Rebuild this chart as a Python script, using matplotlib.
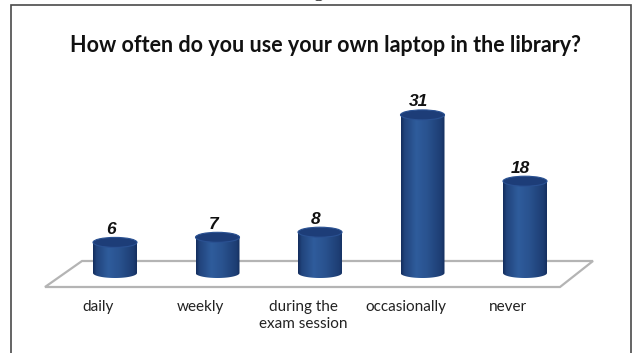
import numpy as np
import matplotlib
matplotlib.use("Agg")
import matplotlib.pyplot as plt
from matplotlib.patches import Ellipse, Polygon, Rectangle, PathPatch
from matplotlib.path import Path
import matplotlib.transforms as mtransforms

# ---- data ----
categories = ["daily", "weekly", "during the\nexam session", "occasionally", "never"]
values = [6, 7, 8, 31, 18]
title = "How often do you use your own laptop in the library?"

W, H = 633, 353
fig = plt.figure(figsize=(W / 100, H / 100), dpi=100)
fig.patch.set_facecolor("white")

def fx(px):
    return px / W

def fy(py):
    return 1 - py / H

# axes covering the figure; scale chosen so that bars sit on the floor
ax = fig.add_axes([0, 0, 1, 1])
ax.set_axis_off()
ax.set_zorder(2)
px_per_cat = 102.5
x0_px = 115.0
px_per_val = 5.1
y0_px_from_bottom = H - 273.0

# frame
fig.patches.append(Rectangle((fx(11), fy(360)), fx(631) - fx(11), fy(5) - fy(360),
                             transform=fig.transFigure, fill=False,
                             edgecolor="#4a4a4a", linewidth=1.2, zorder=0))
# fragment of caption above
fig.text(fx(318), fy(-3.5), "g", family="Liberation Serif", fontsize=14,
         ha="center", va="baseline", color="#222222")

# floor
floor = Polygon([(fx(82), fy(261)), (fx(593), fy(261)), (fx(560), fy(287)), (fx(45), fy(287))],
                closed=True, transform=fig.transFigure, facecolor="white",
                edgecolor="#b4b4b4", linewidth=1.6, zorder=1)
fig.patches.append(floor)

# title
fig.text(fx(326), fy(45), title, ha="center", va="center", fontsize=15.5,
         fontweight="bold", family="Lato", color="#111111")

# cylinders
bw = 44 / px_per_cat
eh = 10 / px_per_val

t = np.linspace(0, 1, 200)
prof = np.interp(t, [0, 0.08, 0.35, 0.6, 0.92, 1], [0.0, 0.5, 1.0, 0.8, 0.35, 0.05])
dark = np.array([0x13, 0x2c, 0x5c]) / 255
light = np.array([0x2f, 0x5c, 0x9c]) / 255
grad = dark[None, :] + prof[:, None] * (light - dark)[None, :]
img = grad[None, :, :]

for i, v in enumerate(values):
    xl, xr = i - bw / 2, i + bw / 2
    theta = np.linspace(np.pi, 2 * np.pi, 60)
    arc = np.column_stack([i + bw / 2 * np.cos(theta), eh / 2 * np.sin(theta)])
    verts = np.vstack([[xl, v], [xl, 0], arc, [xr, 0], [xr, v], [xl, v]])
    body = Path(verts, closed=True)
    im = ax.imshow(img, extent=[xl, xr, -eh / 2, v], aspect="auto", zorder=3,
                   interpolation="bilinear")
    clip = PathPatch(body, transform=ax.transData, facecolor="none", edgecolor="none")
    ax.add_patch(clip)
    im.set_clip_path(clip)
    top = Ellipse((i, v), bw, eh, facecolor="#1d3d78", edgecolor="#2a5192",
                  linewidth=0.8, zorder=4)
    ax.add_patch(top)
    ax.annotate(str(v), (i, v + eh / 2), xytext=(-3, 0.5), textcoords="offset points",
                ha="center", va="bottom", fontsize=12.5, fontweight="bold",
                fontstyle="italic", family="Liberation Sans", color="#111111", zorder=5)

btrans = mtransforms.blended_transform_factory(ax.transData, fig.transFigure)
for i, c in enumerate(categories):
    ax.text(i - 17 / px_per_cat, fy(300), c, transform=btrans, ha="center", va="top",
            fontsize=11, family="Lato", color="#222222", linespacing=1.3)

ax.set_xlim(-x0_px / px_per_cat, (W - x0_px) / px_per_cat)
ax.set_ylim(-y0_px_from_bottom / px_per_val, (H - y0_px_from_bottom) / px_per_val)

fig.savefig("out.png", dpi=100, facecolor="white")
